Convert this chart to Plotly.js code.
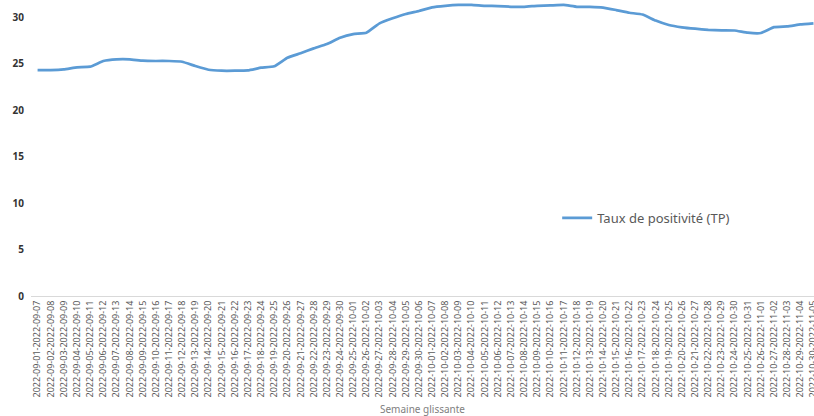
<!DOCTYPE html>
<html>
<head>
<meta charset="utf-8">
<script src="https://cdn.plot.ly/plotly-3.0.1.min.js"></script>
<style>html,body{margin:0;padding:0;background:#fff;}#chart{width:814px;height:416px;}</style>
</head>
<body>
<div id="chart"></div>
<script>
// Rolling-week labels (start date of each 7-day window)
const startDates = [
  "2022-09-01","2022-09-02","2022-09-03","2022-09-04","2022-09-05","2022-09-06","2022-09-07","2022-09-08","2022-09-09","2022-09-10",
  "2022-09-11","2022-09-12","2022-09-13","2022-09-14","2022-09-15","2022-09-16","2022-09-17","2022-09-18","2022-09-19","2022-09-20",
  "2022-09-21","2022-09-22","2022-09-23","2022-09-24","2022-09-25","2022-09-26","2022-09-27","2022-09-28","2022-09-29","2022-09-30",
  "2022-10-01","2022-10-02","2022-10-03","2022-10-04","2022-10-05","2022-10-06","2022-10-07","2022-10-08","2022-10-09","2022-10-10",
  "2022-10-11","2022-10-12","2022-10-13","2022-10-14","2022-10-15","2022-10-16","2022-10-17","2022-10-18","2022-10-19","2022-10-20",
  "2022-10-21","2022-10-22","2022-10-23","2022-10-24","2022-10-25","2022-10-26","2022-10-27","2022-10-28","2022-10-29","2022-10-30"
];
const endDates = [
  "2022-09-07","2022-09-08","2022-09-09","2022-09-10","2022-09-11","2022-09-12","2022-09-13","2022-09-14","2022-09-15","2022-09-16",
  "2022-09-17","2022-09-18","2022-09-19","2022-09-20","2022-09-21","2022-09-22","2022-09-23","2022-09-24","2022-09-25","2022-09-26",
  "2022-09-27","2022-09-28","2022-09-29","2022-09-30","2022-10-01","2022-10-02","2022-10-03","2022-10-04","2022-10-05","2022-10-06",
  "2022-10-07","2022-10-08","2022-10-09","2022-10-10","2022-10-11","2022-10-12","2022-10-13","2022-10-14","2022-10-15","2022-10-16",
  "2022-10-17","2022-10-18","2022-10-19","2022-10-20","2022-10-21","2022-10-22","2022-10-23","2022-10-24","2022-10-25","2022-10-26",
  "2022-10-27","2022-10-28","2022-10-29","2022-10-30","2022-10-31","2022-11-01","2022-11-02","2022-11-03","2022-11-04","2022-11-05"
];
const tpValues = [
  24.30,24.30,24.38,24.59,24.66,25.27,25.45,25.45,25.30,25.27,
  25.27,25.19,24.73,24.33,24.23,24.23,24.27,24.55,24.70,25.62,
  26.10,26.63,27.10,27.77,28.17,28.31,29.32,29.86,30.32,30.65,
  31.04,31.20,31.30,31.30,31.20,31.18,31.10,31.10,31.20,31.24,
  31.30,31.10,31.10,31.02,30.75,30.46,30.27,29.62,29.14,28.89,
  28.74,28.63,28.57,28.55,28.31,28.28,28.92,29.00,29.20,29.32
];
const seriesName = "Taux de positivité (TP)";
const xTitle = "Semaine glissante";
const yTicks = [0,5,10,15,20,25,30];

const categories = startDates.map((s,i) => s + "-" + endDates[i]);

const trace = {
  x: categories,
  y: tpValues,
  type: "scatter",
  mode: "lines",
  name: seriesName,
  line: {color: "#5b9bd5", width: 2.75, shape: "spline", smoothing: 0.3},
  showlegend: true,
  cliponaxis: false
};

const layout = {
  width: 814, height: 416,
  margin: {l: 30.5, r: 0, t: 0, b: 120, pad: 0},
  paper_bgcolor: "#ffffff",
  plot_bgcolor: "#ffffff",
  font: {family: "Noto Sans, sans-serif", color: "#595959"},
  xaxis: {
    type: "category",
    range: [-0.5, 59.04],
    tickangle: -90,
    tickfont: {size: 9, color: "#595959", family: "Noto Sans, sans-serif"},
    showgrid: false,
    zeroline: false,
    showline: true,
    linecolor: "#d9d9d9",
    linewidth: 1,
    ticks: "",
    automargin: false,
    title: {text: xTitle, font: {size: 10, color: "#808080"}, standoff: 9}
  },
  yaxis: {
    range: [0, 31.83],
    tickvals: yTicks,
    ticktext: yTicks.map(String),
    tickfont: {size: 10, color: "#333333", weight: "bold", family: "Noto Sans, sans-serif"},
    ticklabelstandoff: 6,
    showgrid: false,
    zeroline: false,
    showline: false,
    ticks: "",
    automargin: false
  },
  legend: {
    x: 0.672, y: 0.2635, xanchor: "left", yanchor: "middle",
    font: {size: 13, color: "#595959"},
    bgcolor: "rgba(0,0,0,0)",
    itemwidth: 30
  },
  showlegend: true
};

Plotly.newPlot("chart", [trace], layout, {displayModeBar: false, staticPlot: true});
</script>
</body>
</html>
